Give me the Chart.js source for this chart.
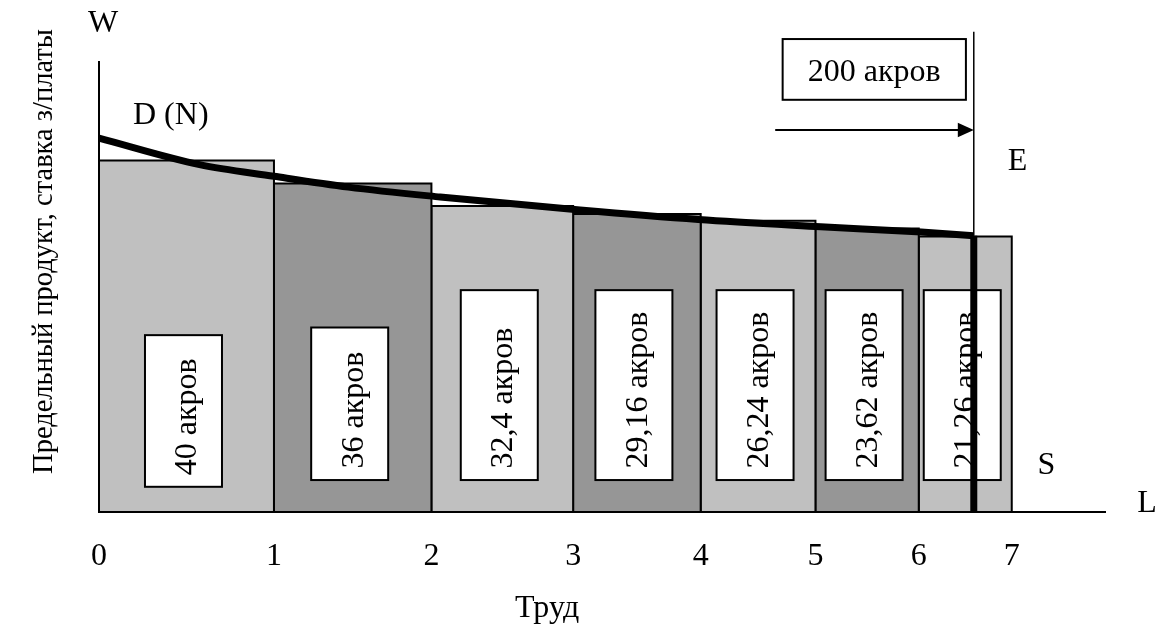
<!DOCTYPE html>
<html>
<head>
<meta charset="utf-8">
<script src="https://cdn.jsdelivr.net/npm/chart.js@4.4.1/dist/chart.umd.min.js"></script>
<style>
  html, body { margin: 0; padding: 0; background: #fff; }
  #wrap { width: 1159px; height: 628px; }
</style>
</head>
<body>
<div id="wrap"><canvas id="myChart"></canvas></div>
<script>
// workers on the x axis, acres each one adds, marginal product of each
const workers = ['0', '1', '2', '3', '4', '5', '6', '7'];
const acres = [40, 36, 32.4, 29.16, 26.24, 23.62, 21.26];
const acreLabels = ['40 акров', '36 акров', '32,4 акров', '29,16 акров', '26,24 акров', '23,62 акров', '21,26 акров'];
const marginalProduct = [78.1, 73.0, 68.0, 66.2, 64.7, 63.0, 61.2];

// demand curve D(N) (x in acres)
const demandX = [0, 23, 40, 57, 78, 110, 137, 165, 188, 200];
const demandY = [83.1, 77.2, 74.6, 72.2, 70.0, 67.1, 65.0, 63.4, 62.2, 61.4];

const landTotal = 200;
const landLabel = '200 акров';

const FONT = '"Liberation Serif", "Times New Roman", serif';
const LIGHT = '#c0c0c0';
const DARK = '#969696';

// bar edges along the acre axis
const edges = [0];
acres.forEach(a => edges.push(edges[edges.length - 1] + a));

// label boxes and other annotation placement
const annot = {
  boxWidth: 77,
  boxShift: -3,
  boxTop: [39.3, 41.0, 49.3, 49.3, 49.3, 49.3, 49.3],
  boxBottom: [5.6, 7.1, 7.1, 7.1, 7.1, 7.1, 7.1],
  landBox: { x0: 156.3, x1: 198.2, y0: 91.6, y1: 105.1, baseline: 95.8 },
  arrow: { from: 154.6, y: 84.9 },
  lineTop: 106.7
};

const datasets = [];
acres.forEach((a, i) => {
  const x0 = edges[i], x1 = edges[i + 1], h = marginalProduct[i];
  datasets.push({
    data: [{ x: x0, y: 0 }, { x: x0, y: h }, { x: x1, y: h }, { x: x1, y: 0 }],
    borderColor: '#000',
    borderWidth: 2,
    backgroundColor: i % 2 === 0 ? LIGHT : DARK,
    fill: 'origin',
    pointRadius: 0,
    tension: 0,
    borderJoinStyle: 'miter',
    order: 10
  });
});

const endY = demandY[demandY.length - 1];

datasets.push({
  data: demandX.map((x, i) => ({ x: x, y: demandY[i] })),
  borderColor: '#000',
  borderWidth: 7,
  cubicInterpolationMode: 'monotone',
  pointRadius: 0,
  fill: false,
  clip: false,
  order: 0
});
datasets.push({
  data: [{ x: landTotal, y: 0 }, { x: landTotal, y: endY }],
  borderColor: '#000',
  borderWidth: 7,
  pointRadius: 0,
  fill: false,
  order: 0
});
datasets.push({
  data: [{ x: landTotal, y: endY }, { x: landTotal, y: annot.lineTop }],
  borderColor: '#000',
  borderWidth: 1.5,
  pointRadius: 0,
  fill: false,
  clip: false,
  order: 0
});

function text(ctx, str, x, y, align) {
  ctx.textAlign = align || 'center';
  ctx.fillText(str, x, y);
}

const labelPlugin = {
  id: 'labels',
  afterDatasetDraw(chart, args) {
    if (args.index !== 0) return;
    const { ctx } = chart;
    const x = chart.scales.x, y = chart.scales.y;
    ctx.save();
    acreLabels.forEach((lbl, i) => {
      const cx = (x.getPixelForValue(edges[i]) + x.getPixelForValue(edges[i + 1])) / 2 + annot.boxShift;
      const top = y.getPixelForValue(annot.boxTop[i]);
      const bot = y.getPixelForValue(annot.boxBottom[i]);
      const left = cx - annot.boxWidth / 2;
      ctx.fillStyle = '#fff';
      ctx.fillRect(left, top, annot.boxWidth, bot - top);
      ctx.lineWidth = 2;
      ctx.strokeStyle = '#000';
      ctx.strokeRect(left, top, annot.boxWidth, bot - top);
      ctx.save();
      ctx.translate(cx + 13, bot - 11.5);
      ctx.rotate(-Math.PI / 2);
      ctx.fillStyle = '#000';
      ctx.font = '32px ' + FONT;
      ctx.textBaseline = 'alphabetic';
      text(ctx, lbl, 0, 0, 'left');
      ctx.restore();
    });
    ctx.restore();
  },
  afterDraw(chart) {
    const { ctx } = chart;
    const x = chart.scales.x, y = chart.scales.y;
    ctx.save();
    ctx.fillStyle = '#000';
    ctx.strokeStyle = '#000';
    ctx.textBaseline = 'alphabetic';
    ctx.font = '32px ' + FONT;

    text(ctx, 'W', 103, 32);
    text(ctx, 'D (N)', 133, 124, 'left');
    text(ctx, 'E', 1017.5, 170);
    text(ctx, 'S', 1046.5, 474);
    text(ctx, 'L', 1147, 511.7);
    text(ctx, 'Труд', 515, 617, 'left');

    // 200 acres box
    const b = annot.landBox;
    const bx0 = x.getPixelForValue(b.x0), bx1 = x.getPixelForValue(b.x1);
    const by0 = y.getPixelForValue(b.y1), by1 = y.getPixelForValue(b.y0);
    ctx.lineWidth = 2;
    ctx.strokeRect(bx0, by0, bx1 - bx0, by1 - by0);
    text(ctx, landLabel, (bx0 + bx1) / 2, y.getPixelForValue(b.baseline));

    // arrow towards the 200 acre line
    const ax0 = x.getPixelForValue(annot.arrow.from);
    const ax1 = x.getPixelForValue(landTotal);
    const ay = y.getPixelForValue(annot.arrow.y);
    ctx.beginPath();
    ctx.moveTo(ax0, ay);
    ctx.lineTo(ax1 - 14, ay);
    ctx.stroke();
    ctx.beginPath();
    ctx.moveTo(ax1, ay);
    ctx.lineTo(ax1 - 16, ay - 7.3);
    ctx.lineTo(ax1 - 16, ay + 7.3);
    ctx.closePath();
    ctx.fill();

    // y axis title
    ctx.save();
    ctx.translate(52, 251.5);
    ctx.rotate(-Math.PI / 2);
    ctx.font = '28.5px ' + FONT;
    text(ctx, 'Предельный продукт, ставка з/платы', 0, 0);
    ctx.restore();

    ctx.restore();
  }
};

const ctx = document.getElementById('myChart').getContext('2d');
const myChart = new Chart(ctx, {
  type: 'line',
  data: { datasets: datasets },
  options: {
    responsive: true,
    maintainAspectRatio: false,
    animation: false,
    layout: { padding: { left: 99, right: 54, top: 62, bottom: 27.6 } },
    plugins: { legend: { display: false }, tooltip: { enabled: false } },
    scales: {
      x: {
        type: 'linear',
        min: 0,
        max: 230,
        afterBuildTicks: s => { s.ticks = edges.map(v => ({ value: v })); },
        ticks: {
          callback: (v, i) => workers[i],
          font: { family: FONT, size: 32 },
          color: '#000',
          padding: 25,
          maxRotation: 0,
          autoSkip: false
        },
        grid: { display: false, drawTicks: false },
        border: { color: '#000', width: 2, z: 1 }
      },
      y: {
        min: 0,
        max: 100,
        ticks: { display: false },
        grid: { display: false, drawTicks: false },
        border: { color: '#000', width: 2, z: 1 }
      }
    }
  },
  plugins: [labelPlugin]
});
</script>
</body>
</html>
